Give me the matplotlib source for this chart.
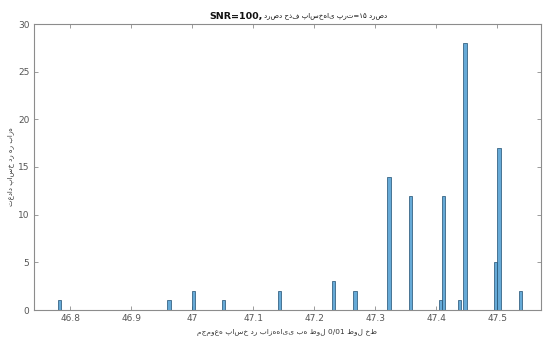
import matplotlib
matplotlib.use("Agg")
import matplotlib.pyplot as plt

# bin centers and counts
bin_centers = [46.782, 46.962, 47.0025, 47.052, 47.143, 47.232, 47.267,
               47.323, 47.358, 47.407, 47.412, 47.438, 47.4475,
               47.4975, 47.503, 47.538]
counts = [1, 1, 2, 1, 2, 3, 2, 14, 12, 1, 12, 1, 28, 5, 17, 2]
bin_width = 0.0053

x_ticks = [46.8, 46.9, 47.0, 47.1, 47.2, 47.3, 47.4, 47.5]
x_tick_labels = ["46.8", "46.9", "47", "47.1", "47.2", "47.3", "47.4", "47.5"]
y_ticks = [0, 5, 10, 15, 20, 25, 30]

title_fa = "درصد حذف پاسخ‌های پرت=۱۵ درصد"
title_snr = "SNR=100,"
xlabel = "مجموعه پاسخ در بازه‌هایی به طول 0/01 طول خط"
ylabel = "تعداد پاسخ در هر بازه"

plt.rcParams['font.family'] = ['DejaVu Sans']

fig = plt.figure(figsize=(5.44, 3.41), dpi=100)
ax = fig.add_axes([33.5/544, 31/341, (541-33.5)/544, (310-24)/341])

ax.bar(bin_centers, counts, width=bin_width, color='#66aad7',
       edgecolor='#1f4e70', linewidth=0.5, align='center', zorder=2)

ax.set_xlim(46.740, 47.572)
ax.set_ylim(0, 30)
ax.set_xticks(x_ticks)
ax.set_xticklabels(x_tick_labels)
ax.set_yticks(y_ticks)

spine_color = '#8c8c8c'
for s in ax.spines.values():
    s.set_color(spine_color)
    s.set_linewidth(0.8)
ax.tick_params(direction='in', length=3, width=0.6, color=spine_color,
               labelsize=6.5, labelcolor='#555555', top=True, right=True,
               pad=3)

ax.set_xlabel(xlabel, fontsize=5.3, color='#333333', labelpad=4)
ax.set_ylabel(ylabel, fontsize=5.0, color='#333333', labelpad=3)

fig.text(263/544, 1 - 16/341, title_snr, ha='right', va='center',
         fontsize=6.8, fontweight='bold', color='#111111')
fig.text(264/544, 1 - 16/341, title_fa, ha='left', va='center',
         fontsize=5.0, color='#111111')

fig.savefig("out.png", dpi=100)
